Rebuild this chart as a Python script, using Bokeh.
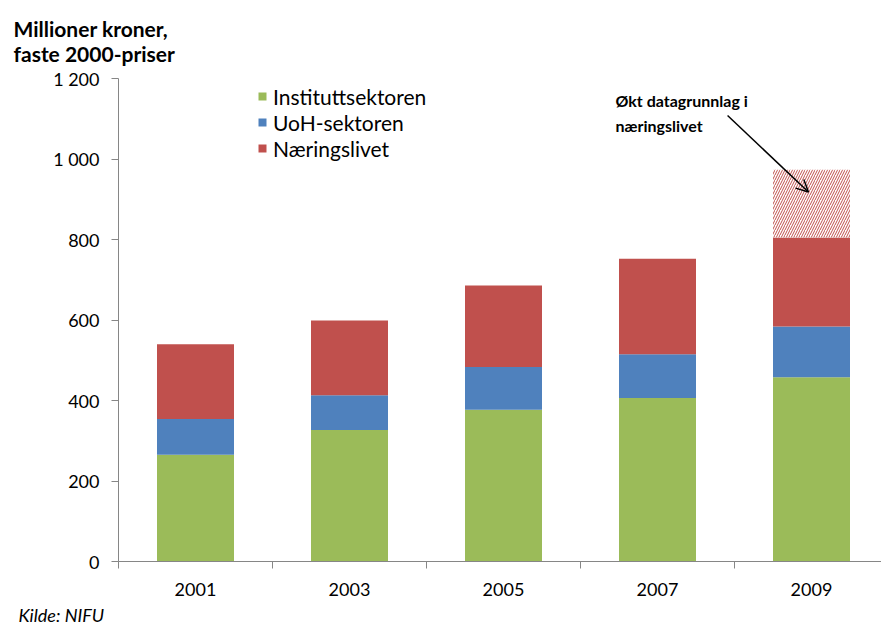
from bokeh.plotting import figure
from bokeh.models import (Range1d, FixedTicker, Legend, LegendItem, Arrow,
                          OpenHead, Label, Title, ColumnDataSource)
from bokeh.transform import stack
from bokeh.embed import file_html
from bokeh.resources import INLINE

# ---- data ----
years = ["2001", "2003", "2005", "2007", "2009"]
institutt = [265, 327, 377, 406, 458]
uoh = [89, 86, 106, 109, 126]
naering = [186, 186, 203, 237, 221]
okt_datagrunnlag = [0, 0, 0, 0, 168]
series_names = ["Instituttsektoren", "UoH-sektoren", "Næringslivet"]
y_ticks = [0, 200, 400, 600, 800, 1000, 1200]
y_tick_labels = ["0", "200", "400", "600", "800", "1 000", "1 200"]
annotation_text = "Økt datagrunnlag i\nnæringslivet"
source_text = "Kilde: NIFU"
y_title = "Millioner kroner,\nfaste 2000-priser"

colors = ["#9BBB59", "#4F81BD", "#C0504D"]
FONT = "Lato"

W, H = 881, 628
LEFT, TOP = 118, 78
PX_PER_CAT = 154

xs = list(range(1, len(years) + 1))
src = ColumnDataSource(dict(x=xs, a=institutt, b=uoh, c=naering, d=okt_datagrunnlag))

p = figure(width=W, height=H, output_backend="svg", toolbar_location=None,
           x_range=Range1d(0.5, 0.5 + (W - LEFT) / PX_PER_CAT), y_range=Range1d(0, 1200),
           min_border_left=LEFT, min_border_right=0, min_border_top=TOP,
           min_border_bottom=0)
p.outline_line_color = None
p.xgrid.grid_line_color = None
p.ygrid.grid_line_color = None

# title (y-axis caption)
p.title.text = y_title
p.title.text_font = FONT
p.title.text_font_size = "21px"
p.title.text_font_style = "bold"
p.title.text_color = "#000000"
p.title.align = "left"
p.title.offset = -105
p.title.standoff = 26

# stacked bars
renderers = p.vbar_stack(["a", "b", "c"], x="x", width=0.5, color=colors,
                         source=src, line_color=None)
p.vbar(x="x", width=0.5, bottom=stack("a", "b", "c"), top=stack("a", "b", "c", "d"),
       source=src, fill_color="white", line_color=None,
       hatch_pattern="/", hatch_color="#C0504D", hatch_scale=5, hatch_weight=1,
       hatch_alpha=1.0)

# axes
ax = p.xaxis[0]
ax.ticker = FixedTicker(ticks=xs, minor_ticks=[x - 0.5 for x in xs] + [xs[-1] + 0.5])
ax.major_label_overrides = {x: y for x, y in zip(xs, years)}
ax.major_tick_line_color = None
ax.minor_tick_out = 7
ax.minor_tick_in = 0
ax.minor_tick_line_color = "#868686"
ax.axis_line_color = "#868686"
ax.major_label_text_font = FONT
ax.major_label_text_font_size = "18px"
ax.major_label_text_color = "#000000"
ax.major_label_standoff = 14

ay = p.yaxis[0]
ay.ticker = FixedTicker(ticks=y_ticks)
ay.major_label_overrides = {t: l for t, l in zip(y_ticks, y_tick_labels)}
ay.minor_tick_line_color = None
ay.major_tick_out = 7
ay.major_tick_in = 0
ay.major_tick_line_color = "#868686"
ay.axis_line_color = "#868686"
ay.major_label_text_font = FONT
ay.major_label_text_font_size = "18px"
ay.major_label_text_color = "#000000"
ay.major_label_standoff = 12

# legend
items = [LegendItem(label=n, renderers=[r]) for n, r in zip(series_names, renderers)]
legend = Legend(items=items, location=(139, 400), padding=0, spacing=0,
                label_height=26, glyph_height=10, glyph_width=10,
                label_text_font=FONT, label_text_font_size="21px",
                label_text_color="#000000", border_line_color=None,
                background_fill_alpha=0, label_standoff=6)
p.add_layout(legend)

# annotation
p.add_layout(Label(x=3.727, y=1168, text=annotation_text, text_font=FONT,
                   text_font_size="16px", text_font_style="bold",
                   text_color="#000000", text_baseline="top",
                   text_line_height=1.3))
p.add_layout(Arrow(x_start=4.455, y_start=1108, x_end=4.98, y_end=918,
                   line_color="#000000", line_width=1.5,
                   end=OpenHead(size=12, line_color="#000000", line_width=1.5)))

# source
src_title = Title(text=source_text, text_font=FONT, text_font_size="18px",
                  text_font_style="italic", text_color="#000000", align="left",
                  offset=-100, standoff=6)
p.add_layout(src_title, "below")

open("out.html", "w").write(file_html(p, INLINE))
